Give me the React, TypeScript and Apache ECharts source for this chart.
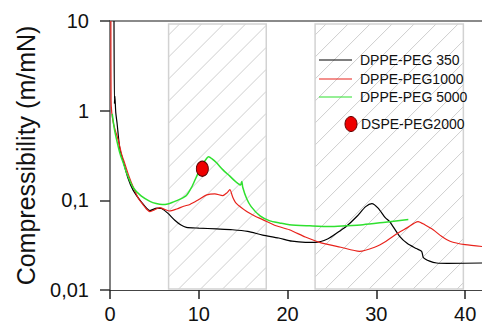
import React, { useEffect, useRef } from "react";
import * as echarts from "echarts";

// ---- data ----
const xTicks = [0, 10, 20, 30, 40];
const hatchRanges: [number, number][] = [
  [6.6, 17.6],
  [23.1, 39.8],
];

const peg350: [number, number][] = [
  [0.45, 10], [0.5, 1.2], [0.55, 1.45], [0.65, 0.95], [0.8, 0.72], [1.1, 0.38],
  [1.5, 0.27], [2.0, 0.18], [2.6, 0.13], [3.5, 0.097], [4.5, 0.077], [5.3, 0.082],
  [5.8, 0.081], [6.5, 0.072], [7.3, 0.06], [8.0, 0.053], [8.6, 0.05], [10, 0.049],
  [12, 0.048], [13.8, 0.047], [15.5, 0.045], [17.2, 0.041], [19, 0.038], [20.5, 0.035],
  [22, 0.034], [23.1, 0.034], [24.5, 0.037], [25.8, 0.045], [26.6, 0.051], [27.8, 0.066],
  [28.8, 0.085], [29.5, 0.092], [30.2, 0.082], [31.0, 0.064], [31.5, 0.058], [32.6, 0.04],
  [33.5, 0.033], [34.5, 0.029], [35.1, 0.027], [35.3, 0.023], [36, 0.021], [36.8, 0.02],
  [38, 0.0198], [42, 0.02],
];

const peg1000: [number, number][] = [
  [0.1, 10], [0.12, 1.3], [0.2, 0.95], [0.35, 0.75], [0.6, 0.6], [0.9, 0.48],
  [1.3, 0.33], [1.65, 0.26], [2.1, 0.19], [2.6, 0.142], [3.2, 0.105], [3.7, 0.09],
  [4.1, 0.08], [4.5, 0.075], [5.0, 0.078], [5.6, 0.083], [6.2, 0.079], [6.7, 0.076],
  [7.5, 0.08], [8.3, 0.086], [9.0, 0.09], [10, 0.102], [10.9, 0.115], [11.8, 0.118],
  [12.7, 0.113], [13.2, 0.122], [13.5, 0.132], [13.8, 0.11], [14.2, 0.093], [15.4, 0.075],
  [16.3, 0.067], [17.2, 0.061], [18.7, 0.052], [20.2, 0.047], [22, 0.039], [23.6, 0.034],
  [26, 0.03], [28.1, 0.027], [29.8, 0.03], [31.1, 0.035], [32.4, 0.043], [33.4, 0.049],
  [34.7, 0.058], [35.5, 0.053], [36.4, 0.047], [37.3, 0.04], [38.3, 0.035], [40, 0.032],
  [42, 0.0305],
];

const peg5000: [number, number][] = [
  [0.25, 0.92], [0.5, 0.62], [0.8, 0.45], [1.1, 0.34], [1.5, 0.26], [1.85, 0.204],
  [2.6, 0.139], [3.5, 0.112], [4.5, 0.0975], [5.2, 0.092], [5.9, 0.0896], [6.5, 0.091],
  [7.1, 0.0955], [7.9, 0.103], [8.6, 0.113], [9.2, 0.14], [9.7, 0.18], [10.3, 0.24],
  [10.9, 0.295], [11.1, 0.306], [11.5, 0.29], [12.0, 0.262], [12.7, 0.22], [13.5, 0.186],
  [14.2, 0.16], [14.7, 0.148], [14.85, 0.162], [14.95, 0.14], [15.4, 0.104], [15.9, 0.085],
  [16.9, 0.067], [18, 0.059], [19.1, 0.056], [20.2, 0.0535], [22.5, 0.052], [24.7, 0.051],
  [26.5, 0.052], [28.5, 0.0535], [31, 0.057], [33.6, 0.061],
];

const dspe2000: [number, number][] = [[10.4, 0.225]];

const seriesNames = ["DPPE-PEG 350", "DPPE-PEG1000", "DPPE-PEG 5000", "DSPE-PEG2000"];
const seriesColors = ["#000000", "#e8231c", "#2fe02f", "#ee0000"];

const FONT = "'Liberation Sans', Arial, sans-serif";

export default function App() {
  const ref = useRef<HTMLDivElement>(null);

  useEffect(() => {
    document.body.style.margin = "0";
    if (!ref.current) return;
    const chart = echarts.init(ref.current, null, { renderer: "svg" });

    const legendX = 319;
    const legendRows = [60, 79, 97];

    const graphic: any[] = [];
    legendRows.forEach((y, i) => {
      graphic.push({
        type: "line",
        shape: { x1: legendX, y1: y, x2: legendX + 33, y2: y },
        style: { stroke: seriesColors[i], lineWidth: 1.2 },
        z: 10,
      });
      graphic.push({
        type: "text",
        x: legendX + 41,
        y: y,
        style: {
          text: seriesNames[i],
          fontFamily: FONT,
          fontSize: 14,
          fill: "#111",
          verticalAlign: "middle",
        },
        z: 10,
      });
    });
    graphic.push({
      type: "ellipse",
      shape: { cx: 351, cy: 124, rx: 6, ry: 7.5 },
      style: { fill: seriesColors[3], stroke: "#5a0000", lineWidth: 1 },
      z: 10,
    });
    graphic.push({
      type: "text",
      x: 361,
      y: 124,
      style: {
        text: seriesNames[3],
        fontFamily: FONT,
        fontSize: 14,
        fill: "#111",
        verticalAlign: "middle",
      },
      z: 10,
    });

    const option: any = {
      animation: false,
      graphic,
      grid: { left: 110, right: 0, top: 21, bottom: 41 },
      xAxis: [
        {
          type: "value",
          min: 0,
          max: 41.9,
          interval: 10,
          position: "bottom",
          axisLine: { show: true, lineStyle: { color: "#444", width: 1.2 } },
          axisTick: {
            show: true,
            length: 9,
            inside: false,
            customValues: xTicks,
            lineStyle: { color: "#222", width: 1.5 },
          },
          axisLabel: {
            customValues: xTicks,
            fontFamily: FONT,
            fontSize: 20,
            color: "#111",
            margin: 14,
          },
          splitLine: { show: false },
        },
        {
          type: "value",
          min: 0,
          max: 41.9,
          position: "top",
          axisLine: { show: true, lineStyle: { color: "#8a8a8a", width: 2 } },
          axisTick: { show: false },
          axisLabel: { show: false },
          splitLine: { show: false },
        },
      ],
      yAxis: {
        type: "log",
        logBase: 10,
        min: 0.01,
        max: 10,
        name: "Compressibility (m/mN)",
        nameLocation: "middle",
        nameGap: 72,
        nameTextStyle: { fontFamily: FONT, fontSize: 25, color: "#111" },
        axisLine: { show: true, lineStyle: { color: "#808080", width: 2 } },
        axisTick: { show: true, length: 10, lineStyle: { color: "#333", width: 1.5 } },
        axisLabel: {
          fontFamily: FONT,
          fontSize: 20,
          color: "#111",
          margin: 21,
          formatter: (v: number) => String(Number(v.toPrecision(3))).replace(".", ","),
        },
        splitLine: { show: false },
        minorTick: { show: false },
      },
      series: [
        {
          type: "custom",
          name: "hatch",
          data: hatchRanges,
          encode: { x: [0, 1] },
          silent: true,
          z: 1,
          clip: false,
          renderItem: (params: any, api: any) => {
            const xa = api.coord([api.value(0), 1])[0];
            const xb = api.coord([api.value(1), 1])[0];
            const yTop = api.coord([0, 10])[1] + 3;
            const yBot = api.coord([0, 0.01])[1] - 1;
            const children: any[] = [];
            const step = 22;
            const kStart = xa + yTop;
            const kEnd = xb + yBot;
            for (let k = kStart + step / 2; k < kEnd; k += step) {
              const x1 = Math.max(xa, k - yBot);
              const x2 = Math.min(xb, k - yTop);
              if (x2 > x1) {
                children.push({
                  type: "line",
                  shape: { x1: x1, y1: k - x1, x2: x2, y2: k - x2 },
                  style: { stroke: "#cfcfcf", lineWidth: 1 },
                });
              }
            }
            children.push({
              type: "rect",
              shape: { x: xa, y: yTop, width: xb - xa, height: yBot - yTop },
              style: { fill: "none", stroke: "#d2d2d2", lineWidth: 1.5 },
            });
            return { type: "group", children };
          },
        },
        {
          type: "line",
          name: seriesNames[0],
          data: peg350,
          showSymbol: false,
          smooth: 0.25,
          z: 3,
          lineStyle: { color: seriesColors[0], width: 1.2 },
          itemStyle: { color: seriesColors[0] },
        },
        {
          type: "line",
          name: seriesNames[1],
          data: peg1000,
          showSymbol: false,
          smooth: 0.25,
          z: 3,
          lineStyle: { color: seriesColors[1], width: 1.2 },
          itemStyle: { color: seriesColors[1] },
        },
        {
          type: "line",
          name: seriesNames[2],
          data: peg5000,
          showSymbol: false,
          smooth: 0.25,
          z: 3,
          lineStyle: { color: seriesColors[2], width: 1.5 },
          itemStyle: { color: seriesColors[2] },
        },
        {
          type: "scatter",
          name: seriesNames[3],
          data: dspe2000,
          symbol: "circle",
          symbolSize: [12, 15],
          z: 4,
          itemStyle: { color: seriesColors[3], borderColor: "#5a0000", borderWidth: 1, opacity: 1 },
        },
      ],
    };

    chart.setOption(option);
    return () => chart.dispose();
  }, []);

  return <div ref={ref} style={{ width: 482, height: 331 }} />;
}
